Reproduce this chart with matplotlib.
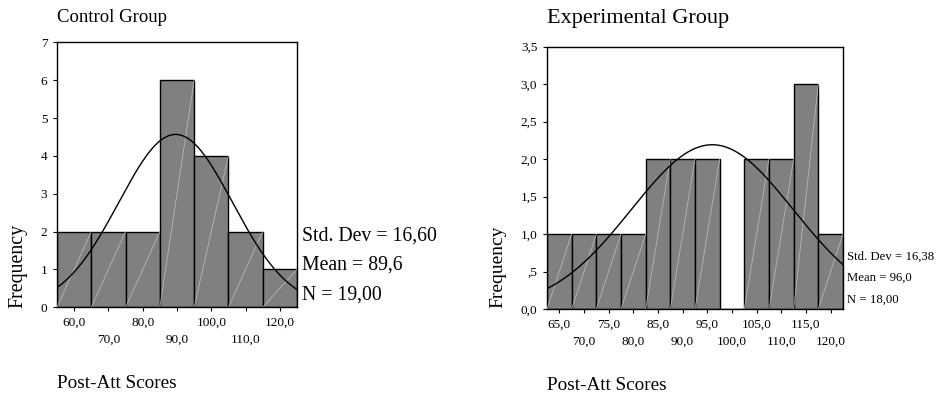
import numpy as np
import matplotlib
matplotlib.use("Agg")
import matplotlib.pyplot as plt

plt.rcParams['font.family'] = ['Liberation Serif', 'DejaVu Serif']

# Control group data
ctrl_centers = [60, 70, 80, 90, 100, 110, 120]
ctrl_counts = [2, 2, 2, 6, 4, 2, 1]
ctrl_width = 10
ctrl_mean, ctrl_sd, ctrl_n = 89.6, 16.60, 19
ctrl_yticks = [0, 1, 2, 3, 4, 5, 6, 7]
ctrl_ytick_labels = ["0", "1", "2", "3", "4", "5", "6", "7"]
ctrl_xtick_labels = ["60,0", "70,0", "80,0", "90,0", "100,0", "110,0", "120,0"]
ctrl_stats = ["Std. Dev = 16,60", "Mean = 89,6", "N = 19,00"]

# Experimental group data
exp_centers = [65, 70, 75, 80, 85, 90, 95, 100, 105, 110, 115, 120]
exp_counts = [1, 1, 1, 1, 2, 2, 2, 0, 2, 2, 3, 1]
exp_width = 5
exp_mean, exp_sd, exp_n = 96.0, 16.38, 18
exp_yticks = [0, 0.5, 1.0, 1.5, 2.0, 2.5, 3.0, 3.5]
exp_ytick_labels = ["0,0", ",5", "1,0", "1,5", "2,0", "2,5", "3,0", "3,5"]
exp_xtick_labels = ["65,0", "70,0", "75,0", "80,0", "85,0", "90,0", "95,0",
                    "100,0", "105,0", "110,0", "115,0", "120,0"]
exp_stats = ["Std. Dev = 16,38", "Mean = 96,0", "N = 18,00"]

fig = plt.figure(figsize=(9.39, 3.95), dpi=100)

def panel(rect, centers, counts, width, mean, sd, n, yticks, yticklabels,
          xticklabels, ymax, tick_fs):
    ax = fig.add_axes(rect)
    centers = np.array(centers, dtype=float)
    counts = np.array(counts, dtype=float)
    ax.bar(centers, counts, width=width, color='#808080', edgecolor='black',
           linewidth=1.0, zorder=2)
    for c, h in zip(centers, counts):
        if h > 0:
            ax.plot([c - width / 2, c + width / 2], [0, h], color='#c0c0c0',
                    linewidth=0.5, zorder=3)
    lo = centers[0] - width / 2
    hi = centers[-1] + width / 2
    xs = np.linspace(lo, hi, 400)
    ys = n * width / (sd * np.sqrt(2 * np.pi)) * np.exp(-0.5 * ((xs - mean) / sd) ** 2)
    ax.plot(xs, ys, color='black', linewidth=1.0, zorder=4)
    ax.set_xlim(lo, hi)
    ax.set_ylim(0, ymax)
    ax.set_yticks(yticks)
    ax.set_yticklabels(yticklabels, fontsize=tick_fs)
    ax.set_xticks(centers[0::2])
    ax.set_xticklabels(xticklabels[0::2], fontsize=tick_fs)
    ax.set_xticks(centers[1::2], minor=True)
    ax.set_xticklabels(xticklabels[1::2], minor=True, fontsize=tick_fs)
    ax.tick_params(axis='both', which='major', direction='out', length=3,
                   width=0.8, pad=4)
    ax.tick_params(axis='x', which='minor', direction='out', length=3,
                   width=0.8, pad=16)
    for s in ax.spines.values():
        s.set_linewidth(1.0)
    return ax

ax1 = panel([57 / 939, 1 - 307.3 / 395, 240 / 939, 265 / 395],
            ctrl_centers, ctrl_counts, ctrl_width, ctrl_mean, ctrl_sd, ctrl_n,
            ctrl_yticks, ctrl_ytick_labels, ctrl_xtick_labels, 7, 9.5)
ax2 = panel([547 / 939, 1 - 309 / 395, 296 / 939, 262.3 / 395],
            exp_centers, exp_counts, exp_width, exp_mean, exp_sd, exp_n,
            exp_yticks, exp_ytick_labels, exp_xtick_labels, 3.5, 9.5)

# titles
fig.text(57 / 939, 1 - 17 / 395, "Control Group", fontsize=13.5, va='center', ha='left')
fig.text(547 / 939, 1 - 18 / 395, "Experimental Group", fontsize=16, va='center', ha='left')
fig.text(57 / 939, 1 - 383 / 395, "Post-Att Scores", fontsize=13.8, va='center', ha='left')
fig.text(547 / 939, 1 - 385 / 395, "Post-Att Scores", fontsize=13.8, va='center', ha='left')

# y labels
fig.text(18 / 939, 1 - 308 / 395, "Frequency", fontsize=14.3, rotation=90,
         va='bottom', ha='center')
fig.text(498 / 939, 1 - 308 / 395, "Frequency", fontsize=14, rotation=90,
         va='bottom', ha='center')

# stats
for txt, y in zip(ctrl_stats, [236, 265, 295]):
    fig.text(302 / 939, 1 - y / 395, txt, fontsize=14.2, va='center', ha='left')
for txt, y in zip(exp_stats, [257, 278, 300]):
    fig.text(847 / 939, 1 - y / 395, txt, fontsize=9.2, va='center', ha='left')

fig.savefig("out.png", dpi=100)
